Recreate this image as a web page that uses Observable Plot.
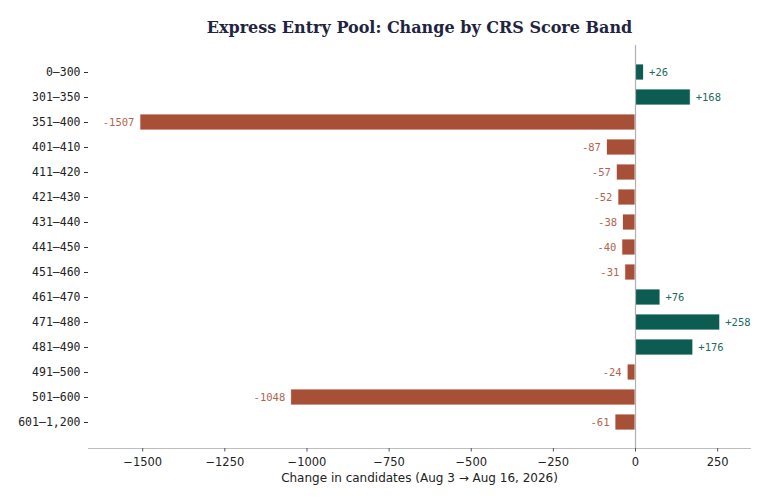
<!DOCTYPE html>
<html>
<head>
<meta charset="utf-8">
<script src="https://cdn.jsdelivr.net/npm/d3@7"></script>
<script src="https://cdn.jsdelivr.net/npm/@observablehq/plot@0.6"></script>
<style>
  html, body { margin: 0; padding: 0; background: #fff; }
</style>
</head>
<body>
<div id="chart"></div>
<script>
const bands = ["0–300","301–350","351–400","401–410","411–420","421–430","431–440","441–450","451–460","461–470","471–480","481–490","491–500","501–600","601–1,200"];
const changes = [26,168,-1507,-87,-57,-52,-38,-40,-31,76,258,176,-24,-1048,-61];
const xTicks = [-1500,-1250,-1000,-750,-500,-250,0,250];

const data = bands.map((b, i) => ({band: b, value: changes[i]}));
const pos = data.filter(d => d.value >= 0);
const neg = data.filter(d => d.value < 0);
const GREEN = "#0d5c52", RED = "#a84f37";
const GREEN_T = "#1d6a60", RED_T = "#b3644f";
const fmt = v => (v > 0 ? "+" : "") + v;

const chart = Plot.plot({
  width: 768,
  height: 499,
  marginTop: 45,
  marginBottom: 51,
  marginLeft: 88,
  marginRight: 18,
  style: {background: "#fff", overflow: "visible"},
  x: {domain: [-1665, 350], ticks: xTicks, label: null},
  y: {domain: bands, paddingInner: 0.38, paddingOuter: 0.74, label: null},
  marks: [
    Plot.barX(data, {x: "value", y: "band", fill: d => d.value >= 0 ? GREEN : RED, stroke: "#fff", strokeWidth: 0.8}),
    Plot.ruleX([0], {stroke: "#b0b0b0", strokeWidth: 1.2}),
    Plot.frame({anchor: "bottom", stroke: "#bdbdbd", strokeWidth: 1}),
    Plot.text(pos, {x: "value", y: "band", text: d => fmt(d.value), textAnchor: "start", dx: 5, fill: GREEN_T, fontFamily: "DejaVu Sans Mono", fontSize: 10.5}),
    Plot.text(neg, {x: "value", y: "band", text: d => fmt(d.value), textAnchor: "end", dx: -6, fill: RED_T, fontFamily: "DejaVu Sans Mono", fontSize: 10.5}),
    Plot.axisX({ticks: xTicks, tickSize: 3.5, tickPadding: 5.5, stroke: "#555", fontFamily: "DejaVu Sans", fontSize: 11.5, fill: "#222", label: null, tickFormat: d => d < 0 ? "−" + Math.abs(d) : String(d)}),
    Plot.axisY({tickSize: 4, tickPadding: 4, stroke: "#333", fontFamily: "DejaVu Sans Mono", fontSize: 11.5, fill: "#222", label: null}),
    Plot.text(["Change in candidates (Aug 3 → Aug 16, 2026)"], {frameAnchor: "bottom", dy: 33, fontFamily: "DejaVu Sans", fontSize: 12, fill: "#222"}),
    Plot.text(["Express Entry Pool: Change by CRS Score Band"], {frameAnchor: "top", dy: -24, fontFamily: "DejaVu Serif", fontWeight: "bold", fontSize: 16, fill: "#1f2540"})
  ]
});
document.getElementById("chart").appendChild(chart);
</script>
</body>
</html>
